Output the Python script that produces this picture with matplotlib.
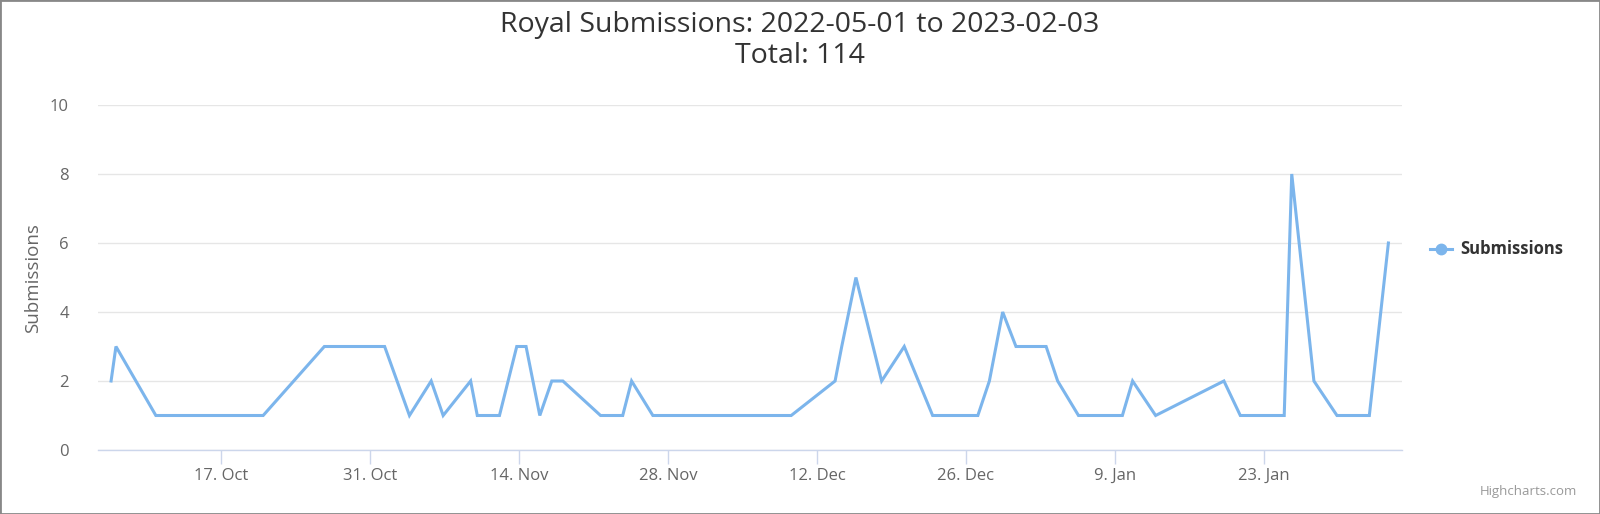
import matplotlib
matplotlib.use("Agg")
import matplotlib.pyplot as plt
import pandas as pd

plt.rcParams['font.family'] = ['Open Sans', 'DejaVu Sans']

# submission timestamps and counts
times = [
    "2022-10-06 16:00", "2022-10-07 03:00", "2022-10-10 21:00", "2022-10-20 23:00",
    "2022-10-26 17:00", "2022-11-01 09:00", "2022-11-03 17:00", "2022-11-05 18:00",
    "2022-11-06 21:00", "2022-11-09 11:00", "2022-11-10 02:00", "2022-11-12 04:00",
    "2022-11-13 19:00", "2022-11-14 16:00", "2022-11-15 23:00", "2022-11-17 02:00",
    "2022-11-18 03:00", "2022-11-21 16:00", "2022-11-23 18:00", "2022-11-24 14:00",
    "2022-11-26 14:00", "2022-12-09 14:00", "2022-12-13 17:00", "2022-12-14 08:00",
    "2022-12-15 16:00", "2022-12-18 02:00", "2022-12-20 05:00", "2022-12-22 21:00",
    "2022-12-27 03:00", "2022-12-28 05:00", "2022-12-29 11:00", "2022-12-30 17:00",
    "2023-01-02 13:00", "2023-01-03 15:00", "2023-01-05 14:00", "2023-01-09 17:00",
    "2023-01-10 16:00", "2023-01-12 20:00", "2023-01-19 06:00", "2023-01-20 19:00",
    "2023-01-24 22:00", "2023-01-25 15:00", "2023-01-27 17:00", "2023-01-29 21:00",
    "2023-02-01 22:00", "2023-02-03 17:00",
]
counts = [
    2, 3, 1, 1, 3, 3, 1, 2, 1, 2, 1, 1, 3, 3, 1, 2, 2, 1, 1, 2, 1, 1, 2, 3,
    5, 2, 3, 1, 1, 2, 4, 3, 3, 2, 1, 1, 2, 1, 2, 1, 1, 8, 2, 1, 1, 6,
]
tick_dates = ["2022-10-17", "2022-10-31", "2022-11-14", "2022-11-28",
              "2022-12-12", "2022-12-26", "2023-01-09", "2023-01-23"]
tick_labels = ["17. Oct", "31. Oct", "14. Nov", "28. Nov",
               "12. Dec", "26. Dec", "9. Jan", "23. Jan"]

x = pd.to_datetime(times)

fig = plt.figure(figsize=(16, 5.14), dpi=100)
ax = fig.add_axes([98 / 1600, 1 - 450 / 514, (1401.7 - 98) / 1600, 345 / 514])

ax.plot(x, counts, color='#7cb5ec', linewidth=2.2, solid_joinstyle='miter')

ax.set_ylim(0, 10)
ax.set_yticks([0, 2, 4, 6, 8, 10])
ax.set_xlim(pd.Timestamp("2022-10-05 10:30"), pd.Timestamp("2023-02-04 23:00"))
ax.set_xticks(pd.to_datetime(tick_dates))
ax.set_xticklabels(tick_labels)

ax.grid(axis='y', color='#e6e6e6', linewidth=1)
ax.set_axisbelow(True)
for s in ['top', 'right', 'left']:
    ax.spines[s].set_visible(False)
ax.spines['bottom'].set_color('#ccd6eb')
ax.spines['bottom'].set_linewidth(1)
ax.tick_params(axis='x', colors='#666666', length=10, width=1, pad=3, labelsize=12)
ax.tick_params(axis='x', color='#ccd6eb')
ax.tick_params(axis='y', colors='#666666', length=0, pad=21, labelsize=12)

fig.text(33 / 1600, 1 - 278 / 514, "Submissions", rotation=90, ha='center', va='center',
         color='#666666', fontsize=13.5)

fig.text(0.5, 1 - 25 / 514, "Royal Submissions: 2022-05-01 to 2023-02-03",
         ha='center', va='center', fontsize=20.5, color='#333333')
fig.text(0.5, 1 - 56 / 514, "Total: 114",
         ha='center', va='center', fontsize=20.5, color='#333333')

# legend
fig.lines.append(plt.Line2D([1430 / 1600, 1452 / 1600], [1 - 249 / 514] * 2,
                            transform=fig.transFigure, color='#7cb5ec', linewidth=2.2))
fig.lines.append(plt.Line2D([1441 / 1600], [1 - 249 / 514], transform=fig.transFigure,
                            marker='o', markersize=7.5, color='#7cb5ec'))
fig.text(1460 / 1600, 1 - 249 / 514, "Submissions", ha='left', va='center',
         fontsize=12, fontweight='bold', color='#333333')

fig.text(1577 / 1600, 1 - 491 / 514, "Highcharts.com", ha='right', va='center',
         fontsize=9.5, color='#999999')

# outer frame
fig.patches.append(plt.Rectangle((0, 0), 1, 1, transform=fig.transFigure, fill=False,
                                 edgecolor='#888888', linewidth=2))

fig.savefig("out.png", dpi=100)
